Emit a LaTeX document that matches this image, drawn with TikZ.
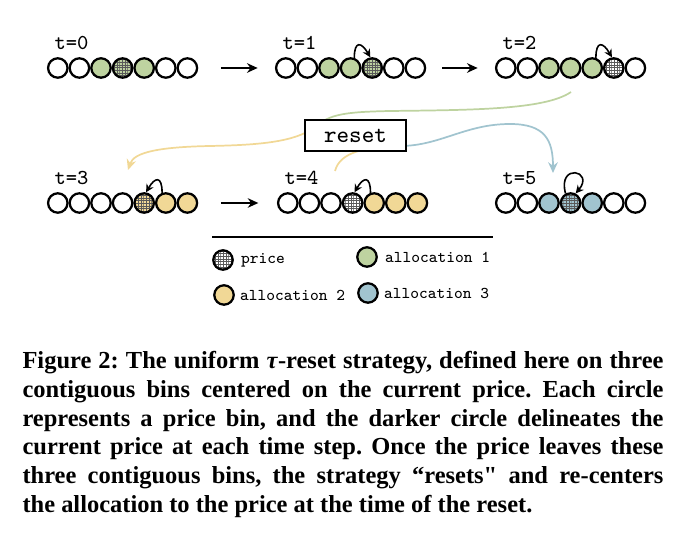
\documentclass[tikz,border=0pt]{standalone}
\usepackage{fontspec}
\setmainfont{Liberation Serif}[Ligatures=TeXOff]
\usetikzlibrary{positioning,patterns.meta,arrows.meta}

\definecolor{allocone}{RGB}{190,211,160}
\definecolor{alloctwo}{RGB}{241,216,150}
\definecolor{allocthree}{RGB}{161,196,207}

\pgfdeclarepattern{
  name=finegrid, type=uncolored,
  bottom left={\pgfpoint{-.1pt}{-.1pt}},
  top right={\pgfpoint{1.1pt}{1.1pt}},
  tile size={\pgfpoint{1pt}{1pt}},
  code={
    \pgfsetlinewidth{0.25pt}
    \pgfpathmoveto{\pgfpoint{-.1pt}{0pt}}
    \pgfpathlineto{\pgfpoint{1.1pt}{0pt}}
    \pgfpathmoveto{\pgfpoint{0pt}{-.1pt}}
    \pgfpathlineto{\pgfpoint{0pt}{1.1pt}}
    \pgfusepath{stroke}
  }
}

\tikzset{
  bin/.style={circle, draw, line width=0.85pt, minimum size=7.3pt, inner sep=0pt},
  wb/.style={bin, fill=white},
  gb/.style={bin, fill=allocone},
  yb/.style={bin, fill=alloctwo},
  bb/.style={bin, fill=allocthree},
  price/.style={bin, preaction={fill=#1}, pattern=finegrid, pattern color=black!65},
  wp/.style={price=white},
  gp/.style={price=allocone},
  yp/.style={price=alloctwo},
  bp/.style={price=allocthree},
  stepname/.style={font=\fontsize{8}{9}\selectfont\ttfamily, anchor=west, inner sep=0pt},
  flow/.style={->, line width=0.8pt},
  hop/.style={-{Stealth[length=3pt,width=3pt]}, line width=0.6pt},
  trail/.style={line width=0.65pt, -{Stealth[length=4pt,width=3.6pt]}},
  resetbox/.style={draw, fill=white, line width=0.9pt, minimum width=37.8pt,
    minimum height=11.5pt, inner sep=0pt, font=\fontsize{9}{10}\selectfont\ttfamily},
  legendtext/.style={font=\fontsize{6.2}{7}\selectfont\ttfamily, inner sep=1pt},
  caption/.style={anchor=north west, inner sep=0pt, text width=241pt, align=justify,
    font=\fontsize{9.2}{10.8}\selectfont\bfseries}
}

\begin{document}
\begin{tikzpicture}[x=0.376pt, y=0.376pt, >={Stealth[length=4pt,width=3.6pt]}]
  \useasboundingbox (0,0) rectangle (686,-533);

  % Bins at each time step
  \foreach \r/\lx/\ly/\cols in {0/47/68/{wb,wb,gb,gp,gb,wb,wb},
      1/275/68/{wb,wb,gb,gb,gp,wb,wb}, 2/495/68/{wb,wb,gb,gb,gb,wp,wb},
      3/47/203/{wb,wb,wb,wb,yp,yb,yb}, 4/277/203/{wb,wb,wb,wp,yb,yb,yb},
      5/495/203/{wb,wb,bb,bp,bb,wb,wb}}{
    \node[stepname] (t\r) at (\lx+7,-\ly+25) {t=\r};
    \foreach \c [count=\i] in \cols
      \node[\c] (r\r-\i) at (\lx+10.8+21.6*\i-21.6,-\ly) {};
  }

  % Steps
  \draw[flow, shorten <=8.5pt, shorten >=6.5pt] (r0-7) -- (r1-1);
  \draw[flow, shorten <=6pt, shorten >=6.5pt] (r1-7) -- (r2-1);
  \draw[flow, shorten <=8.5pt, shorten >=7pt] (r3-7) -- (r4-1);

  % Price moves
  \draw[hop] (r1-4.70) to[out=90, in=120, looseness=2.8] (r1-5.100);
  \draw[hop] (r2-5.70) to[out=90, in=120, looseness=2.8] (r2-6.100);
  \draw[hop] (r3-6.110) to[out=90, in=60, looseness=2.8] (r3-5.80);
  \draw[hop] (r4-5.110) to[out=90, in=60, looseness=2.8] (r4-4.80);
  \draw[hop] (r5-4.118) .. controls +(105:32) and +(50:30) .. (r5-4.62);

  % Resets
  \coordinate (greenstart) at (571,-92);
  \coordinate (greenend) at (315,-127);
  \coordinate (yellowtip) at (128,-170);
  \coordinate (yellowstart) at (335,-171);
  \coordinate (blueend) at (400,-146);
  \coordinate (bluetip) at (553,-173);
  \draw[trail, -, allocone] (greenstart) .. controls (545,-110) and (470,-110) .. (390,-111)
    .. controls (345,-112) and (330,-114) .. (greenend);
  \draw[trail, alloctwo] (greenend) .. controls (295,-142) and (260,-145) .. (210,-146)
    .. controls (160,-147) and (134,-152) .. (yellowtip);
  \draw[trail, -, alloctwo] (yellowstart) .. controls (340,-152) and (365,-147) .. (blueend);
  \draw[trail, allocthree] (blueend) .. controls (440,-146) and (465,-124) .. (510,-124)
    .. controls (545,-124) and (553,-140) .. (bluetip);
  \node[resetbox] (reset) at (355.5,-135.5) {reset};

  % Legend
  \draw[line width=0.8pt] (212,-237) -- (493,-237);
  \node[wp] (keyprice) at (223,-260) {};
  \node[legendtext, right=1.5pt of keyprice] (keypricetext) {price};
  \node[gb] (keyone) at (367,-257) {};
  \node[legendtext, right=1.5pt of keyone] (keyonetext) {allocation 1};
  \node[yb] (keytwo) at (224,-295) {};
  \node[legendtext, right=0.8pt of keytwo] (keytwotext) {allocation 2};
  \node[bb] (keythree) at (368,-293) {};
  \node[legendtext, right=0.8pt of keythree] (keythreetext) {allocation 3};

  % Caption
  \node[caption] (figcaption) at (22,-351) {\hyphenpenalty=10000\frenchspacing
    Figure 2: The uniform \textit{τ}-reset strategy, defined here on three\linebreak
    contiguous bins centered on the current price. Each circle\linebreak
    represents a price bin, and the darker circle delineates the\linebreak
    current price at each time step. Once the price leaves these\linebreak
    three contiguous bins, the strategy “resets" and re-centers\linebreak
    the allocation to the price at the time of the reset.};
\end{tikzpicture}
\end{document}
